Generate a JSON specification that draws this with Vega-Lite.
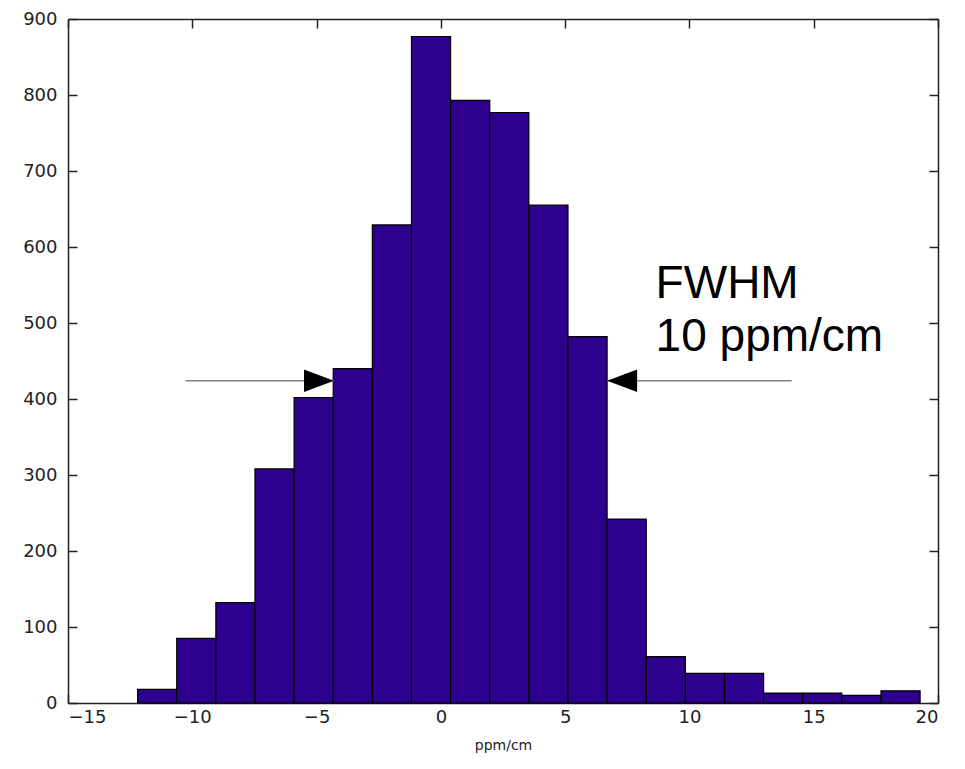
{
  "$schema": "https://vega.github.io/schema/vega-lite/v6.json",
  "width": 870,
  "height": 684,
  "autosize": "none",
  "padding": {"left": 68, "top": 19, "right": 27, "bottom": 66},
  "background": "white",
  "view": {"stroke": null},
  "config": {
    "axis": {
      "grid": false,
      "domainColor": "#222",
      "domainWidth": 1.5,
      "tickColor": "#222",
      "tickWidth": 1.5,
      "tickSize": -9,
      "labelFont": "DejaVu Sans",
      "labelFontSize": 18,
      "labelColor": "#222",
      "titleFont": "DejaVu Sans",
      "titleFontSize": 14,
      "titleFontWeight": "normal",
      "titleColor": "#222"
    }
  },
  "datasets": {
    "hist": [
      {"bin_start": -12.2, "bin_end": -10.626, "count": 18},
      {"bin_start": -10.626, "bin_end": -9.052, "count": 85},
      {"bin_start": -9.052, "bin_end": -7.478, "count": 132},
      {"bin_start": -7.478, "bin_end": -5.904, "count": 308},
      {"bin_start": -5.904, "bin_end": -4.33, "count": 402},
      {"bin_start": -4.33, "bin_end": -2.756, "count": 440},
      {"bin_start": -2.756, "bin_end": -1.182, "count": 629},
      {"bin_start": -1.182, "bin_end": 0.392, "count": 877},
      {"bin_start": 0.392, "bin_end": 1.966, "count": 793},
      {"bin_start": 1.966, "bin_end": 3.54, "count": 777},
      {"bin_start": 3.54, "bin_end": 5.114, "count": 655},
      {"bin_start": 5.114, "bin_end": 6.688, "count": 482},
      {"bin_start": 6.688, "bin_end": 8.262, "count": 242},
      {"bin_start": 8.262, "bin_end": 9.836, "count": 61},
      {"bin_start": 9.836, "bin_end": 11.41, "count": 39},
      {"bin_start": 11.41, "bin_end": 12.984, "count": 39},
      {"bin_start": 12.984, "bin_end": 14.558, "count": 13},
      {"bin_start": 14.558, "bin_end": 16.132, "count": 13},
      {"bin_start": 16.132, "bin_end": 17.706, "count": 10},
      {"bin_start": 17.706, "bin_end": 19.28, "count": 16}
    ],
    "arrows": [
      {"from": -10.27, "to": -4.3, "y": 424, "dir": "right"},
      {"from": 14.11, "to": 6.69, "y": 424, "dir": "left"}
    ],
    "label": [
      {"x": 8.64, "y": 533, "text": ["FWHM", "10 ppm/cm"]}
    ]
  },
  "resolve": {"axis": {"x": "independent", "y": "independent"}},
  "layer": [
    {
      "data": {"name": "hist"},
      "mark": {"type": "rect", "fill": "#2e008e", "stroke": "#000", "strokeWidth": 1.2},
      "encoding": {
        "x": {
          "field": "bin_start", "type": "quantitative",
          "scale": {"domain": [-15, 20], "nice": false, "zero": false},
          "axis": {"values": [-15, -10, -5, 0, 5, 10, 15, 20], "labelPadding": 14, "title": "ppm/cm", "titlePadding": 12}
        },
        "x2": {"field": "bin_end"},
        "y": {
          "field": "count", "type": "quantitative",
          "scale": {"domain": [0, 900], "nice": false},
          "axis": {"values": [0, 100, 200, 300, 400, 500, 600, 700, 800, 900], "labelPadding": 20, "title": null}
        }
      }
    },
    {
      "data": {"name": "arrows"},
      "mark": {"type": "rule", "color": "#808080", "strokeWidth": 1.3},
      "encoding": {
        "x": {"field": "from", "type": "quantitative", "axis": {"orient": "top", "values": [-15, -10, -5, 0, 5, 10, 15, 20], "labels": false, "title": null}},
        "x2": {"field": "to"},
        "y": {"field": "y", "type": "quantitative", "axis": {"orient": "right", "values": [0, 100, 200, 300, 400, 500, 600, 700, 800, 900], "labels": false, "title": null}}
      }
    },
    {
      "data": {"name": "arrows"},
      "transform": [{"filter": "datum.dir === 'right'"}],
      "mark": {"type": "point", "filled": true, "color": "#000", "opacity": 1, "size": 900, "shape": "M 0 0 L -2 -0.75 L -2 0.75 Z"},
      "encoding": {
        "x": {"field": "to", "type": "quantitative", "axis": null},
        "y": {"field": "y", "type": "quantitative", "axis": null}
      }
    },
    {
      "data": {"name": "arrows"},
      "transform": [{"filter": "datum.dir === 'left'"}],
      "mark": {"type": "point", "filled": true, "color": "#000", "opacity": 1, "size": 900, "shape": "M 0 0 L 2 -0.75 L 2 0.75 Z"},
      "encoding": {
        "x": {"field": "to", "type": "quantitative", "axis": null},
        "y": {"field": "y", "type": "quantitative", "axis": null}
      }
    },
    {
      "data": {"name": "label"},
      "mark": {"type": "text", "font": "Liberation Sans", "fontSize": 46, "align": "left", "baseline": "alphabetic", "lineHeight": 53, "color": "#000"},
      "encoding": {
        "x": {"field": "x", "type": "quantitative", "axis": null},
        "y": {"field": "y", "type": "quantitative", "axis": null},
        "text": {"field": "text"}
      }
    }
  ]
}
